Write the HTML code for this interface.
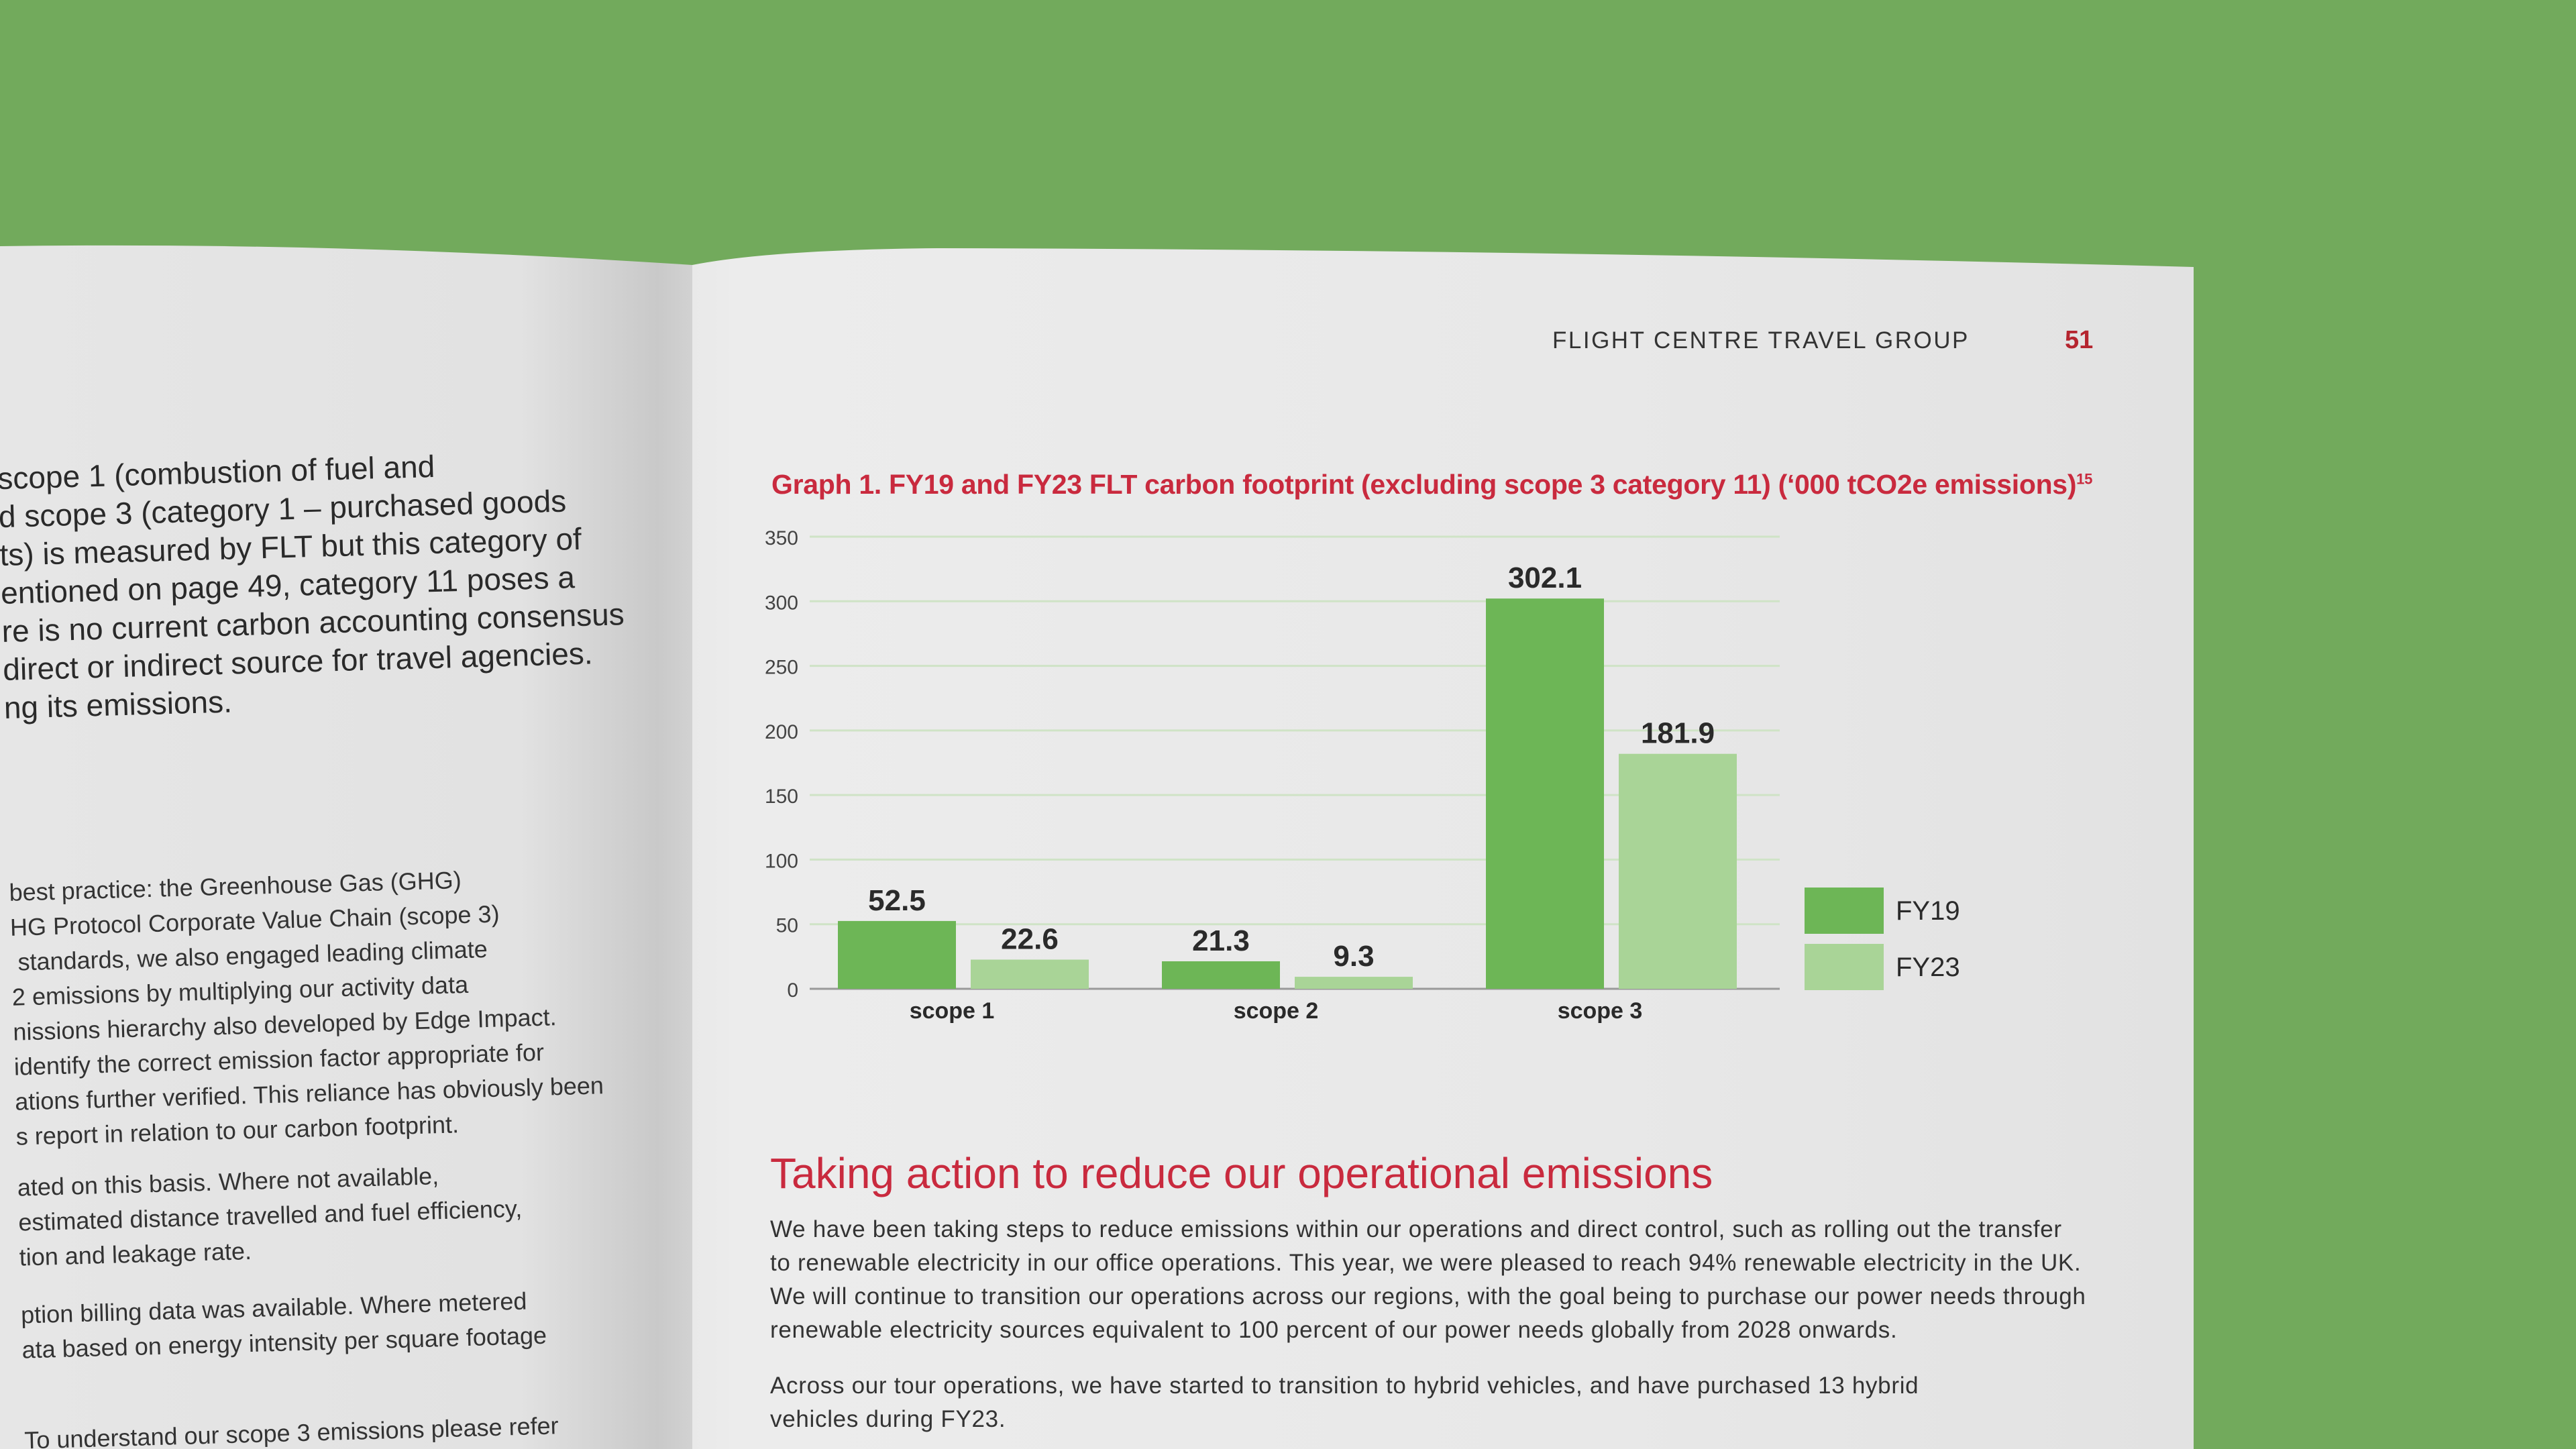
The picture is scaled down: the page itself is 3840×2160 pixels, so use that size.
<!DOCTYPE html>
<html><head><meta charset="utf-8">
<style>
html,body{margin:0;padding:0;width:3840px;height:2160px;overflow:hidden}
body{position:relative;background:#72aa5c;font-family:"Liberation Sans",sans-serif}
svg{position:absolute;left:0;top:0;display:block}
.t{position:absolute;white-space:nowrap}
</style></head><body>
<svg width="3840" height="2160">
<defs>
<linearGradient id="lp" x1="0" x2="1" y1="0" y2="0">
<stop offset="0" stop-color="#e6e6e6"/><stop offset="0.75" stop-color="#e2e2e2"/><stop offset="0.95" stop-color="#c9c9c9"/><stop offset="1" stop-color="#d2d2d2"/>
</linearGradient>
<linearGradient id="rp" x1="0" x2="1" y1="0" y2="0">
<stop offset="0" stop-color="#e9e9e9"/><stop offset="0.03" stop-color="#ececec"/><stop offset="0.6" stop-color="#e8e8e8"/><stop offset="1" stop-color="#e2e2e2"/>
</linearGradient>
</defs>
<path d="M0,367 Q500,360 1032,395 L1032,2200 L0,2200 Z" fill="url(#lp)"/>
<path d="M1032,395 Q1150,372 1400,370 Q2300,372 3270,398 L3270,2200 L1032,2200 Z" fill="url(#rp)"/>
</svg>

<div style="position:absolute;left:0;top:0;width:1030px;height:2160px;overflow:hidden;color:#2a2a2a;">
<div style="position:absolute;left:0;top:0;transform:rotate(-1.6deg);transform-origin:0 700px;">
<div class="t" style="left:-4px;top:685px;font-size:46px;line-height:57px">scope 1 (combustion of fuel and<br>d scope 3 (category 1 – purchased goods<br>ts) is measured by FLT but this category of<br>entioned on page 49, category 11 poses a<br>re is no current carbon accounting consensus<br>direct or indirect source for travel agencies.<br>ng its emissions.</div>
<div class="t" style="left:-4px;top:1305px;font-size:36px;line-height:52px;color:#333">best practice: the Greenhouse Gas (GHG)<br>HG Protocol Corporate Value Chain (scope 3)<br>&nbsp;standards, we also engaged leading climate<br>2 emissions by multiplying our activity data<br>nissions hierarchy also developed by Edge Impact.<br>identify the correct emission factor appropriate for<br>ations further verified. This reliance has obviously been<br>s report in relation to our carbon footprint.</div>
<div class="t" style="left:-4px;top:1745px;font-size:36px;line-height:52px;color:#333">ated on this basis. Where not available,<br>estimated distance travelled and fuel efficiency,<br>tion and leakage rate.</div>
<div class="t" style="left:-4px;top:1935px;font-size:36px;line-height:52px;color:#333">ption billing data was available. Where metered<br>ata based on energy intensity per square footage</div>
<div class="t" style="left:-4px;top:2122px;font-size:36px;line-height:52px;color:#333">To understand our scope 3 emissions please refer</div>
</div>
</div>

<div class="t" style="left:2314px;top:488px;font-size:35px;letter-spacing:2.5px;color:#333">FLIGHT CENTRE TRAVEL GROUP</div>
<div class="t" style="left:3078px;top:486px;font-size:38px;font-weight:bold;color:#b5252f">51</div>

<div class="t" style="left:1150px;top:699px;font-size:41px;font-weight:bold;color:#c92a3e;letter-spacing:-0.3px">Graph 1. FY19 and FY23 FLT carbon footprint (excluding scope 3 category 11) (‘000 tCO2e emissions)<sup style="font-size:22px">15</sup></div>

<svg id="chart" width="3840" height="2160"></svg>

<div class="t" style="left:1148px;top:1712px;font-size:64px;color:#c92a3e">Taking action to reduce our operational emissions</div>
<div class="t" style="left:1148px;top:1808px;font-size:35px;letter-spacing:0.7px;line-height:50px;color:#333">We have been taking steps to reduce emissions within our operations and direct control, such as rolling out the transfer<br>to renewable electricity in our office operations. This year, we were pleased to reach 94% renewable electricity in the UK.<br>We will continue to transition our operations across our regions, with the goal being to purchase our power needs through<br>renewable electricity sources equivalent to 100 percent of our power needs globally from 2028 onwards.</div>
<div class="t" style="left:1148px;top:2041px;font-size:35px;letter-spacing:0.7px;line-height:50px;color:#333">Across our tour operations, we have started to transition to hybrid vehicles, and have purchased 13 hybrid<br>vehicles during FY23.</div>

<script>
const categories = ["scope 1", "scope 2", "scope 3"];
const fy19Values = [52.5, 21.3, 302.1];
const fy23Values = [22.6, 9.3, 181.9];
const tickValues = [0, 50, 100, 150, 200, 250, 300, 350];
const seriesNames = ["FY19", "FY23"];

const NS = "http://www.w3.org/2000/svg";
const svg = document.getElementById("chart");
const X0 = 1207, X1 = 2653, Y0 = 1474, Y1 = 800, VMAX = 350;
const y = v => Y0 - (v / VMAX) * (Y0 - Y1);
const band = 483;
const bx = i => 1249 + i * band;
const colors = ["#6db656", "#a9d497"];

function mk(tag, attrs, text) {
  const e = document.createElementNS(NS, tag);
  for (const k in attrs) e.setAttribute(k, attrs[k]);
  if (text !== undefined) e.textContent = text;
  svg.appendChild(e);
  return e;
}

tickValues.forEach(v => {
  if (v > 0) {
    const g = mk("line", {x1: X0, x2: X1, y1: y(v), y2: y(v), stroke: "#cfe3c6", "stroke-width": 3});
    
    
  }
  const t = mk("text", {x: 1190, y: y(v) + 12, "text-anchor": "end", "font-size": 30, fill: "#444", "font-family": "Liberation Sans Narrow, Liberation Sans, sans-serif"}, String(v));
  
  
});
const ax = mk("line", {x1: X0, x2: X1, y1: Y0, y2: Y0, stroke: "#999", "stroke-width": 3});



const bw = 176, gap = 22;
categories.forEach((c, i) => {
  const start = bx(i);
  [fy19Values, fy23Values].forEach((arr, s) => {
    const x = start + s * (bw + gap);
    const r = mk("rect", {x: x, y: y(arr[i]), width: bw, height: Y0 - y(arr[i]), fill: colors[s]});
    
    
    const l = mk("text", {x: x + bw / 2, y: y(arr[i]) - 16, "text-anchor": "middle", "font-size": 44, "font-weight": "bold", fill: "#2a2a2a"}, arr[i].toFixed(1));
    
    
  });
  const cl = mk("text", {x: start + 170, y: 1518, "text-anchor": "middle", "font-size": 34, "font-weight": "bold", fill: "#2a2a2a"}, c);
  
  
});

seriesNames.forEach((n, s) => {
  const yy = 1323 + s * 84;
  const r = mk("rect", {x: 2690, y: yy, width: 118, height: 69, fill: colors[s]});
  
  
  const t = mk("text", {x: 2826, y: yy + 48, "font-size": 40, fill: "#2a2a2a"}, n);
  
  
});
</script>
</body></html>
